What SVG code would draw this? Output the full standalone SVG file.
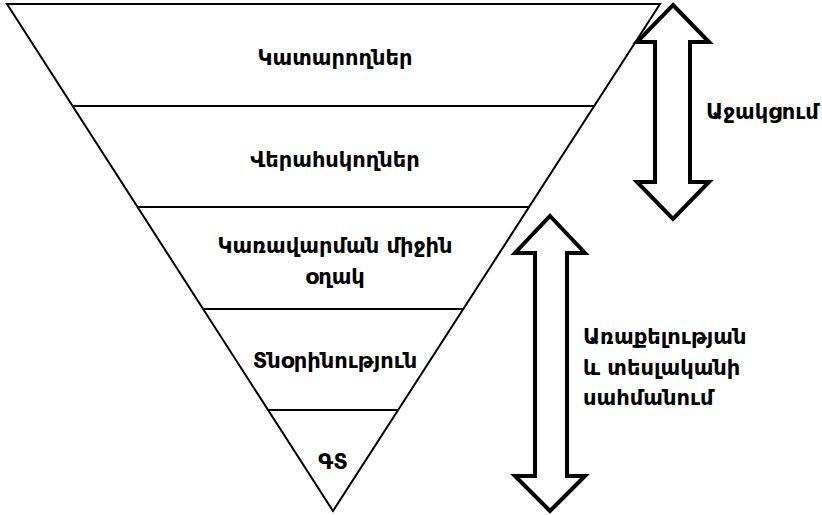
<svg xmlns="http://www.w3.org/2000/svg" width="822" height="515" viewBox="0 0 822 515">
<style>
.t{font-family:"DejaVu Sans","Noto Sans",sans-serif;font-size:21px;font-weight:bold;fill:#000}
.c{text-anchor:middle}
.ln{stroke:#000;stroke-width:2;fill:none}
.ar{stroke:#000;stroke-width:4;fill:#fff;stroke-linejoin:miter}
</style>
<rect width="822" height="515" fill="#fff"/>
<g id="pyramid">
<polygon class="ln" points="7,4 660,4 333,511"/>
<line class="ln" x1="72" y1="106" x2="594" y2="106"/>
<line class="ln" x1="137" y1="207" x2="529" y2="207"/>
<line class="ln" x1="204" y1="309" x2="463" y2="309"/>
<line class="ln" x1="268" y1="410" x2="398" y2="410"/>
</g>
<g id="n1"><text class="t c" x="335" y="65">Կատարողներ</text></g>
<g id="n2"><text class="t c" x="335" y="167">Վերահսկողներ</text></g>
<g id="n3"><text class="t c" x="335" y="253">Կառավարման միջին</text><text class="t c" x="335" y="284">օղակ</text></g>
<g id="n4"><text class="t c" x="335" y="368">Տնօրինություն</text></g>
<g id="n5"><text class="t c" x="333" y="469">ԳՏ</text></g>
<g id="connectors">
<polygon class="ar" points="673,5 709,42 690,42 690,182 709,182 673,219 637,182 655,182 655,42 637,42"/>
<polygon class="ar" points="550,216 585,253 567,253 567,476 585,476 550,511 515,476 535,476 535,253 515,253"/>
</g>
<g id="label1"><text class="t" x="706" y="119">Աջակցում</text></g>
<g id="label2"><text class="t" x="583" y="344">Առաքելության</text><text class="t" x="583" y="375">և տեսլականի</text><text class="t" x="583" y="405">սահմանում</text></g>
</svg>
